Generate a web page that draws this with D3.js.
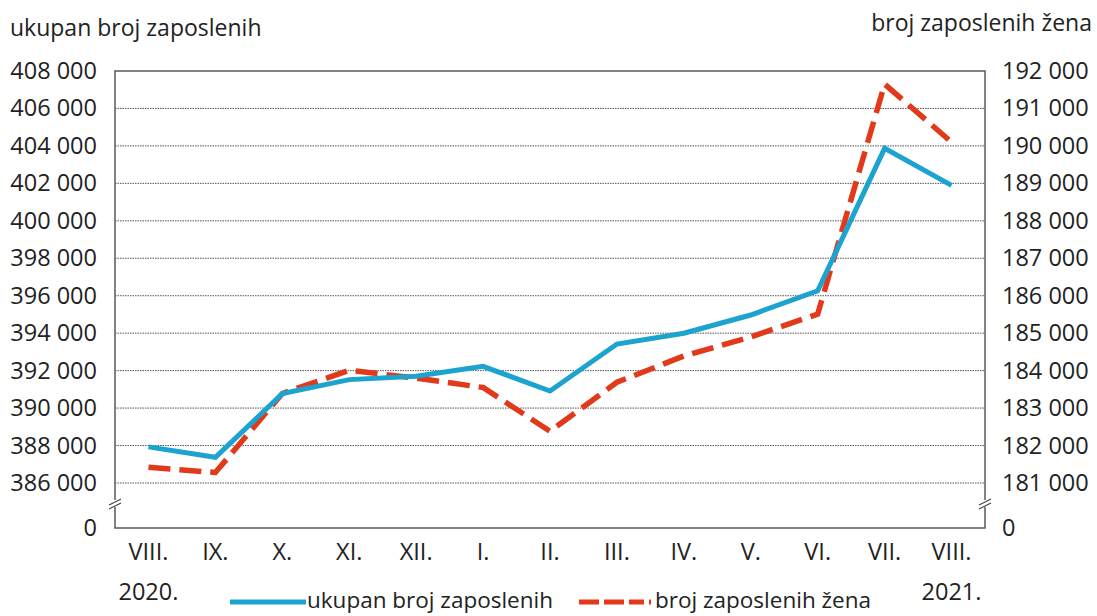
<!DOCTYPE html>
<html><head><meta charset="utf-8">
<script src="https://cdn.jsdelivr.net/npm/d3@7"></script>
<style>
body{margin:0;background:#fff;}
text{font-family:"Open Sans",sans-serif;fill:#222;}
</style></head>
<body><svg id="c" width="1097" height="616"></svg>
<script>
const months = ["VIII.","IX.","X.","XI.","XII.","I.","II.","III.","IV.","V.","VI.","VII.","VIII."];
const years = ["2020.","","","","","","","","","","","","2021."];
const total = [387930,387370,390770,391520,391700,392230,390910,393420,394000,394970,396260,403870,401890];
const women = [181420,181280,183390,184010,183800,183550,182380,183690,184390,184900,185510,191650,190100];
const leftTicks = [0,386000,388000,390000,392000,394000,396000,398000,400000,402000,404000,406000,408000];
const rightTicks = [0,181000,182000,183000,184000,185000,186000,187000,188000,189000,190000,191000,192000];
const leftTitle = "ukupan broj zaposlenih";
const rightTitle = "broj zaposlenih žena";
const seriesNames = ["ukupan broj zaposlenih","broj zaposlenih žena"];

const svg = d3.select("#c");
const L=115, R=985, T=71, B=528, yBreak=483;
const blue="#1ca3cf", red="#e2391b";
const FS="23.5px";
const fmt = v => v===0 ? "0" : d3.format(",")(v).replace(/,/g," ");

const x = d3.scaleBand().domain(d3.range(months.length)).range([L,R]);
const yL = d3.scaleLinear().domain([0,386000,408000]).range([B,yBreak,T]);
const yR = d3.scaleLinear().domain([0,181000,192000]).range([B,yBreak,T]);

// gridlines
svg.append("g").selectAll("line").data(leftTicks.filter(v=>v>0 && v<408000)).join("line")
  .attr("x1",L).attr("x2",R).attr("y1",d=>yL(d)).attr("y2",d=>yL(d))
  .attr("stroke","#555").attr("stroke-width",1).attr("stroke-dasharray","1.5,1");

// frame
svg.append("rect").attr("x",L).attr("y",T).attr("width",R-L).attr("height",B-T)
  .attr("fill","none").attr("stroke","#5a5a5a").attr("stroke-width",1.5);

// break marks
[L,R].forEach(px=>{
  const g=svg.append("g");
  g.append("rect").attr("x",px-6).attr("y",500).attr("width",12).attr("height",7).attr("fill","#fff");
  [-2,2].forEach(o=>g.append("line").attr("x1",px-6).attr("x2",px+6).attr("y1",504+o+3).attr("y2",504+o-3)
     .attr("stroke","#444").attr("stroke-width",1.2));
});

// axes
const axL = svg.append("g").attr("transform",`translate(${L},0)`)
  .call(d3.axisLeft(yL).tickValues(leftTicks).tickFormat(fmt).tickSize(0).tickPadding(18));
const axR = svg.append("g").attr("transform",`translate(${R},0)`)
  .call(d3.axisRight(yR).tickValues(rightTicks).tickFormat(fmt).tickSize(0).tickPadding(17));
[axL,axR].forEach(a=>{a.select(".domain").remove();a.selectAll("text").style("font-size",FS).attr("fill","#222").style("font-family","'Open Sans',sans-serif");});

const axB = svg.append("g").attr("transform",`translate(0,${B})`)
  .call(d3.axisBottom(x).tickFormat(i=>months[i]).tickSize(0).tickPadding(15));
axB.select(".domain").remove();
axB.selectAll("text").style("font-size",FS).attr("fill","#222").style("font-family","'Open Sans',sans-serif");
svg.append("g").selectAll("text").data(years.map((y,i)=>({y,i})).filter(d=>d.y)).join("text")
  .attr("x",d=>x(d.i)+x.bandwidth()/2).attr("y",600).attr("text-anchor","middle")
  .style("font-size",FS).text(d=>d.y);

// titles
svg.append("text").attr("x",10).attr("y",36).style("font-size","23px").text(leftTitle);
svg.append("text").attr("x",1092).attr("y",31).attr("text-anchor","end").style("font-size","23px").text(rightTitle);

// lines
const cx = i => x(i)+x.bandwidth()/2;
svg.append("path").datum(women).attr("fill","none").attr("stroke",red).attr("stroke-width",5.5)
  .attr("stroke-dasharray","22,9").attr("stroke-linejoin","miter")
  .attr("d",d3.line().x((d,i)=>cx(i)).y(d=>yR(d)));
svg.append("path").datum(total).attr("fill","none").attr("stroke",blue).attr("stroke-width",5)
  .attr("stroke-linejoin","miter")
  .attr("d",d3.line().x((d,i)=>cx(i)).y(d=>yL(d)));

// legend
const lg = svg.append("g");
lg.append("line").attr("x1",230).attr("x2",306).attr("y1",602).attr("y2",602).attr("stroke",blue).attr("stroke-width",5);
lg.append("text").attr("x",307).attr("y",608).style("font-size","22.5px").text(seriesNames[0]);
lg.append("line").attr("x1",579).attr("x2",651).attr("y1",602).attr("y2",602).attr("stroke",red).attr("stroke-width",5).attr("stroke-dasharray","20,5,20,5,15,5,4,0");
lg.append("text").attr("x",655).attr("y",608).style("font-size","22.5px").text(seriesNames[1]);
</script></body></html>
